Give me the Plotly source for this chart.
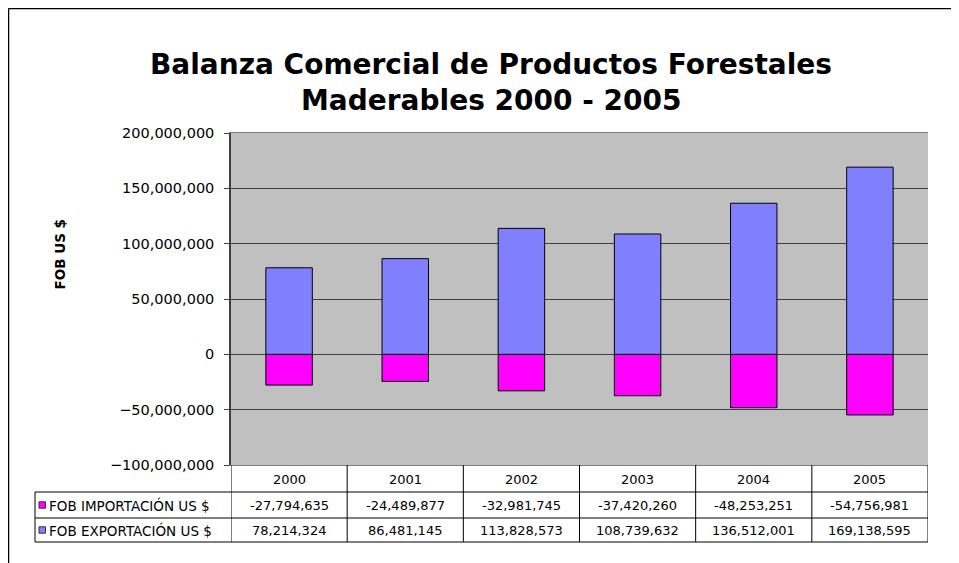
import plotly.graph_objects as go

years = ["2000", "2001", "2002", "2003", "2004", "2005"]
importacion = [-27794635, -24489877, -32981745, -37420260, -48253251, -54756981]
exportacion = [78214324, 86481145, 113828573, 108739632, 136512001, 169138595]
series_names = ["FOB IMPORTACIÓN US $", "FOB EXPORTACIÓN US $"]
series_colors = ["#FF00FF", "#8080FF"]
title_lines = ["Balanza Comercial de Productos Forestales", "Maderables 2000 - 2005"]
y_title = "FOB US $"

OFF = 8  # page body margin
W, H = 959 - OFF, 563 - OFF
L, R, T, B = 231 - OFF, 928 - OFF, 133 - OFF, 465 - OFF
PW, PH = R - L, B - T


def px_x(p):
    return (p - OFF - L) / PW


def px_y(p):
    return (B - (p - OFF)) / PH


FONT = "DejaVu Sans"

fig = go.Figure()
for name, vals, col in zip(series_names, [importacion, exportacion], series_colors):
    fig.add_trace(go.Bar(x=years, y=vals, name=name, marker=dict(color=col, line=dict(color="black", width=1)),
                         showlegend=False))

fig.update_layout(
    width=W, height=H,
    margin=dict(l=L, r=W - R, t=T, b=H - B, pad=0),
    barmode="relative", bargap=0.6,
    paper_bgcolor="white", plot_bgcolor="#C0C0C0",
    font=dict(family=FONT, color="black"),
)
fig.update_xaxes(type="category", range=[-0.5, len(years) - 0.5], showticklabels=False, showgrid=False,
                 zeroline=False, showline=True, linecolor="#808080", linewidth=1, mirror=True, ticks="")
fig.update_yaxes(range=[-100000000, 200000000], dtick=50000000, tickformat=",",
                 showgrid=True, gridcolor="#404040", gridwidth=1, zeroline=False,
                 showline=True, linecolor="#404040", linewidth=1.5, ticks="outside", ticklen=5,
                 tickcolor="#404040", ticklabelstandoff=7,
                 tickfont=dict(family=FONT, size=14.5, color="black"))

shapes = []
ann = []
lc = dict(color="black", width=1)
# table lines
y_hdr_top, y_r1, y_r2, y_r3 = px_y(465), px_y(492), px_y(518), px_y(542)
x_left = px_x(35)
for yy in [y_r1, y_r2, y_r3]:
    shapes.append(dict(type="line", xref="paper", yref="paper", x0=x_left, x1=1, y0=yy, y1=yy, line=lc))
shapes.append(dict(type="line", xref="paper", yref="paper", x0=x_left, x1=x_left, y0=y_r1, y1=y_r3, line=lc))
for i in range(len(years) + 1):
    shapes.append(dict(type="line", xref="x", yref="paper", x0=i - 0.5, x1=i - 0.5, y0=y_hdr_top, y1=y_r3, line=lc))
# outer chart border
shapes.append(dict(type="line", xref="paper", yref="paper", x0=px_x(8.5), x1=px_x(8.5), y0=px_y(8.5), y1=px_y(600),
                   line=dict(color="black", width=1.5)))
shapes.append(dict(type="line", xref="paper", yref="paper", x0=px_x(8.5), x1=px_x(1000), y0=px_y(8.5), y1=px_y(8.5),
                   line=dict(color="black", width=1.5)))

tf = dict(family=FONT, size=13, color="black")
for i, yr in enumerate(years):
    for txt, yc in [(yr, 479), (f"{importacion[i]:,}", 505), (f"{exportacion[i]:,}", 530)]:
        ann.append(dict(x=i, xref="x", y=px_y(yc), yref="paper", text=txt, showarrow=False, font=tf,
                        xanchor="center", yanchor="middle"))

for name, col, yc in zip(series_names, series_colors, [505, 530]):
    shapes.append(dict(type="rect", xref="paper", yref="paper", x0=px_x(39), x1=px_x(45.5), y0=px_y(yc - 3.2),
                       y1=px_y(yc + 3.2), fillcolor=col, line=dict(color="#333333", width=1)))
    ann.append(dict(x=px_x(46.5), y=px_y(yc), xref="paper", yref="paper", text=name, showarrow=False,
                    xanchor="left", yanchor="middle", font=dict(family=FONT, size=13.5, color="black")))

# title
for line, yc in zip(title_lines, [64, 101]):
    ann.append(dict(x=px_x(491), y=px_y(yc), xref="paper", yref="paper", text=f"<b>{line}</b>", showarrow=False,
                    xanchor="center", yanchor="middle", font=dict(family=FONT, size=28, color="black")))

ann.append(dict(x=px_x(59.5), y=px_y(255), xref="paper", yref="paper", text=f"<b>{y_title}</b>", showarrow=False,
                xanchor="center", yanchor="middle", textangle=-90, font=dict(family=FONT, size=13.5, color="black")))

fig.update_layout(shapes=shapes, annotations=ann)
fig.write_html("out.html")
